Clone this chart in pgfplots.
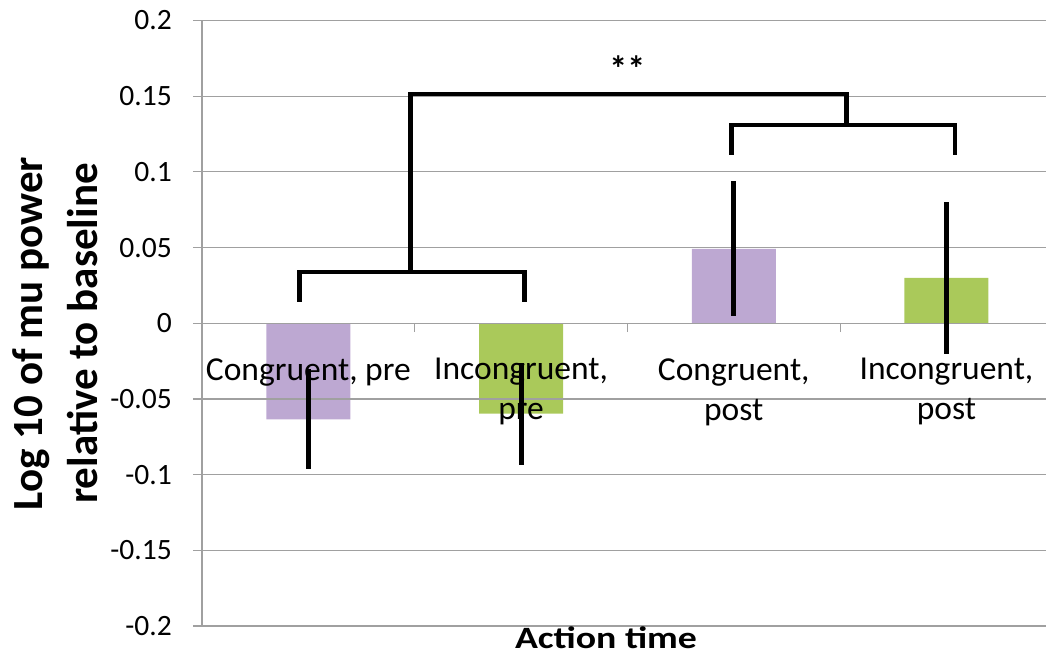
\documentclass[border=0pt]{standalone}
\usepackage{fontspec}
\setmainfont{Carlito}
\newfontfamily\widefont{Carlito}[FakeStretch=1.22]
\usepackage{pgfplots}
\pgfplotsset{compat=1.18}

\definecolor{barpurple}{RGB}{189,168,210}
\definecolor{bargreen}{RGB}{170,201,90}
\definecolor{gridgray}{RGB}{160,160,160}

% bars sit under the tick labels, error bars above them
\pgfdeclarelayer{bars}
\pgfplotsset{
  layers/barlayers/.define layer set={
    axis background,axis grid,bars,axis ticks,axis lines,axis tick labels,
    main,axis descriptions,axis foreground
  }{},
}

\begin{document}
\begin{tikzpicture}
\begin{axis}[
  set layers=barlayers,
  scale only axis,
  width=844pt, height=605.5pt,
  xmin=-0.5, xmax=3.468,
  ymin=-0.2, ymax=0.2,
  axis y line=left,
  axis x line=middle,
  axis line style={-, draw=gridgray, line width=1.2pt},
  ymajorgrids,
  grid style={draw=gridgray, line width=1.2pt},
  tick align=outside,
  tick style={draw=gridgray, line width=1.2pt},
  major tick length=9pt,
  ytick={-0.2,-0.15,-0.1,-0.05,0,0.05,0.1,0.15,0.2},
  yticklabels={-0.2,-0.15,-0.1,-0.05,0,0.05,0.1,0.15,0.2},
  yticklabel style={font=\fontsize{29.5}{34}\selectfont, anchor=east, inner sep=0pt, xshift=-21pt},
  /pgf/number format/assume math mode=true,
  xtick={0.5,1.5,2.5},
  xticklabels={,,},
  extra x ticks={0,1,2,3},
  extra x tick labels={{Congruent, pre},{Incongruent,\\pre},{Congruent,\\post},{Incongruent,\\post}},
  extra x tick style={major tick length=0pt, tick style={draw=none}},
  xticklabel style={font=\fontsize{33.5}{40}\selectfont, align=center, anchor=north, inner sep=0pt, yshift=-35pt},
  xlabel={Action time},
  xlabel style={at={(axis description cs:0.4787,0)}, anchor=base, yshift=-23pt,
    font=\widefont\bfseries\fontsize{31}{36}\selectfont},
  ylabel={Log 10 of mu power\\relative to baseline},
  ylabel style={at={(axis description cs:-0.1742,0.483)}, anchor=center,
    align=center, font=\bfseries\fontsize{43}{55}\selectfont},
  ybar, bar width=84pt, bar shift=0pt,
]
% group means
\addplot[on layer=bars, fill=barpurple, draw=none] coordinates {(0,-0.0635) (2,0.0492)};
\addplot[on layer=bars, fill=bargreen, draw=none] coordinates {(1,-0.0597) (3,0.030)};
% standard errors
\addplot[forget plot, sharp plot, draw=none, mark=none,
  error bars/.cd, y dir=both, y explicit,
  error mark=none,
  error bar style={draw=black, line width=5pt, solid}]
  coordinates {
    (0,-0.0635) +- (0,0.033)
    (1,-0.0597) +- (0,0.0337)
    (2,0.0492) +- (0,0.0446)
    (3,0.030) +- (0,0.050)
  };
% significance brackets
\draw[line width=4.5pt, line join=miter, line cap=rect]
  (axis cs:-0.042,0.0152) -- (axis cs:-0.042,0.0337) -- (axis cs:1.016,0.0337) -- (axis cs:1.016,0.0152);
\draw[line width=4.5pt, line join=miter, line cap=rect]
  (axis cs:1.99,0.1123) -- (axis cs:1.99,0.1308) -- (axis cs:3.04,0.1308) -- (axis cs:3.04,0.1123);
\draw[line width=4.5pt, line join=miter, line cap=rect]
  (axis cs:0.48,0.0337) -- (axis cs:0.48,0.1513) -- (axis cs:2.53,0.1513) -- (axis cs:2.53,0.1308);
\node[font=\bfseries\fontsize{36}{40}\selectfont] at (axis cs:1.5,0.1685) {**};
\end{axis}
\pgfresetboundingbox
\path[use as bounding box] ([xshift=-202pt,yshift=-31pt]current axis.south west)
  rectangle ([yshift=20.5pt]current axis.north east);
\end{tikzpicture}
\end{document}
